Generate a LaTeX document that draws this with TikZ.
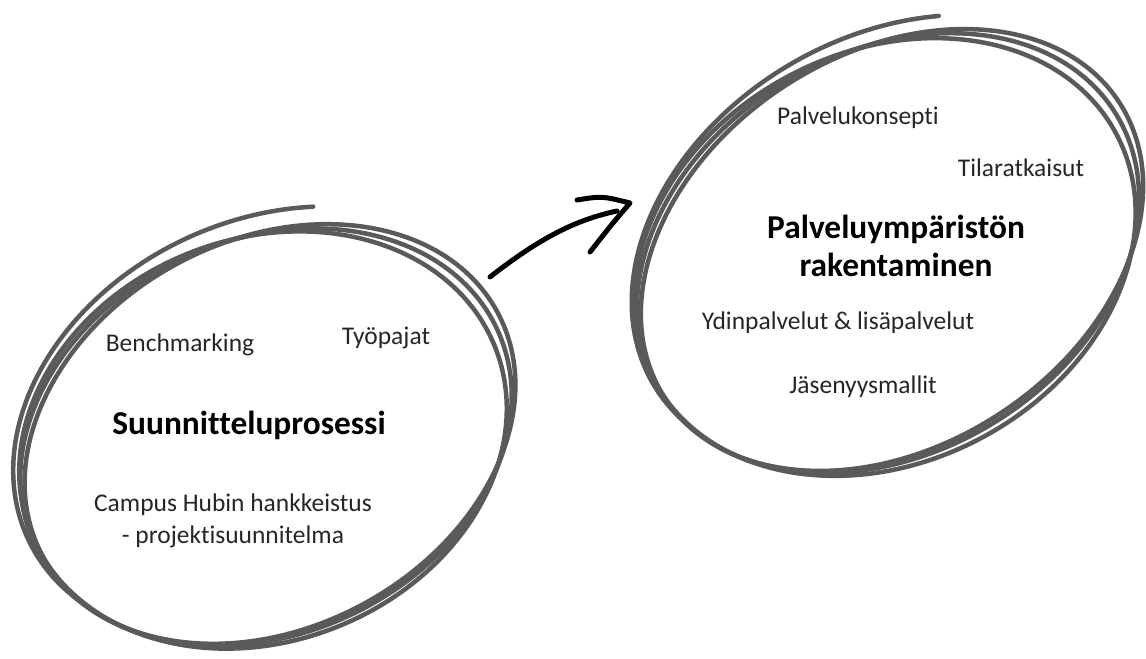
\documentclass[tikz,border=0pt]{standalone}
\usepackage{fontspec}
\setmainfont[Ligatures = NoCommon]{Carlito}
\usetikzlibrary{positioning}
\definecolor{penGray}{HTML}{5A5A5A}

\begin{document}
\begin{tikzpicture}[x = 0.02cm, y = -0.02cm,
        pen/.style = {draw = penGray, line width = 0.09cm, line cap = round},
        arrowpen/.style = {draw = black, line width = 0.1cm, line cap = round, line join = round},
        lbl/.style = {font = \fontsize{14.5}{18.2}\selectfont, text = black!85, inner sep = 0pt},
        ttl/.style = {font = \fontsize{19}{21.6}\selectfont\bfseries, align = center, inner sep = 0pt}]
        \useasboundingbox (0,0) rectangle (1146,659);

        % left circle, three strokes and a loose end
        \foreach \cx/\cy/\r/\a/\b in {266/437/25/255/197, 263/440/22/250/201, 270/434/28/258/194}
            \draw [pen, rotate around = {\r:(\cx,\cy)}] (\cx,\cy) ellipse [x radius = \a, y radius = \b];
        \begin{scope}[shift = {(266,437)}, rotate = 25, yscale = -1]
            \draw [pen] plot [domain = 60:200, samples = 60, smooth]
                ({(255 + 0.18*(200-\x))*cos(\x)}, {(197 + 0.15*(200-\x))*sin(\x)});
        \end{scope}

        % right circle
        \foreach \cx/\cy/\r/\a/\b in {888/253/31/267/200, 885/257/28/262/205, 892/250/33/271/196}
            \draw [pen, rotate around = {\r:(\cx,\cy)}] (\cx,\cy) ellipse [x radius = \a, y radius = \b];
        \begin{scope}[shift = {(888,253)}, rotate = 31, yscale = -1]
            \draw [pen] plot [domain = 55:190, samples = 60, smooth]
                ({(267 + 0.16*(190-\x))*cos(\x)}, {(200 + 0.12*(190-\x))*sin(\x)});
        \end{scope}

        \node (suunn) [ttl] at (249,425) {Suunnitteluprosessi};
        \node (bench) [lbl] at (180,345) {Benchmarking};
        \node (tyopaj) [lbl] at (386,338) {Työpajat};
        \node (campus) [lbl, align = center] at (233,521) {Campus Hubin hankkeistus\\- projektisuunnitelma};

        \node (ymp) [ttl] at (896,246) {Palveluympäristön\\rakentaminen};
        \node (konsepti) [lbl] at (858,118) {Palvelukonsepti};
        \node (tila) [lbl] at (1021,168) {Tilaratkaisut};
        \node (ydin) [lbl] at (838,323) {Ydinpalvelut \& lisäpalvelut};
        \node (jasen) [lbl] at (863,387) {Jäsenyysmallit};

        % hand drawn arrow
        \coordinate (from) at (490,277);
        \coordinate (tip) at (630,203);
        \coordinate (barbtop) at (577,200);
        \coordinate (barbbot) at (590,252);
        \draw [arrowpen] (from) .. controls (540,238) and (575,220) .. (617,211);
        \draw [arrowpen] (barbtop) .. controls (602,196) .. (tip) .. controls (612,224) .. (barbbot);
    \end{tikzpicture}
\end{document}
